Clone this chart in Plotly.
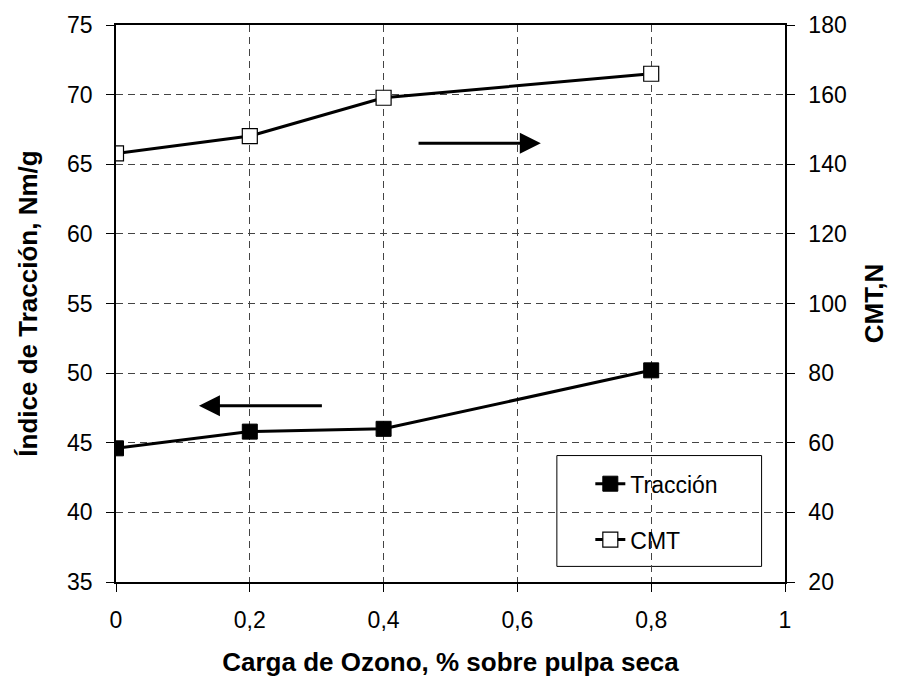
import plotly.graph_objects as go

# Ozone charge (% on dry pulp)
carga_ozono = [0, 0.2, 0.4, 0.8]
# Tensile index, Nm/g (left axis)
traccion = [44.6, 45.8, 46.0, 50.2]
# CMT, N (right axis)
cmt = [143.1, 148.1, 159.1, 166.0]

FONT = "Arial, Liberation Sans, sans-serif"

fig = go.Figure()

fig.add_trace(go.Scatter(
    x=carga_ozono, y=traccion, name="Tracción", mode="lines+markers",
    line=dict(color="black", width=3),
    marker=dict(symbol="square", size=15, color="black", line=dict(color="black", width=1)),
    legendgroup="a", yaxis="y",
))
fig.add_trace(go.Scatter(
    x=carga_ozono, y=cmt, name="CMT", mode="lines+markers",
    line=dict(color="black", width=3),
    marker=dict(symbol="square", size=15, color="white", line=dict(color="black", width=1.2)),
    legendgroup="b", yaxis="y2",
))

grid = dict(showgrid=True, gridcolor="#444", gridwidth=1, griddash="7px,5px")

fig.update_layout(
    width=899, height=678,
    margin=dict(l=116, r=114, t=25, b=96, autoexpand=False),
    paper_bgcolor="white", plot_bgcolor="white",
    separators=",.",
    font=dict(family=FONT, size=23, color="black"),
    showlegend=True,
    legend=dict(
        x=0.709, y=0.215, xanchor="left", yanchor="top",
        bgcolor="rgba(0,0,0,0)", borderwidth=0,
        font=dict(family=FONT, size=23, color="black"),
        tracegroupgap=23, traceorder="grouped",
    ),
    xaxis=dict(
        range=[0, 1], dtick=0.2, tick0=0, automargin=False,
        showline=True, linecolor="black", linewidth=1.5, mirror=True,
        ticks="outside", ticklen=8, tickcolor="black", ticklabelstandoff=9,
        tickfont=dict(size=23), zeroline=False,
        title=dict(text="<b>Carga de Ozono, % sobre pulpa seca</b>",
                   font=dict(size=26), standoff=20),
        **grid,
    ),
    yaxis=dict(
        range=[35, 75], dtick=5, automargin=False,
        showline=True, linecolor="black", linewidth=1.5,
        ticks="outside", ticklen=8, tickcolor="black", ticklabelstandoff=9,
        tickfont=dict(size=23), zeroline=False,
        title=dict(text="<b>Índice de Tracción, Nm/g</b>",
                   font=dict(size=26), standoff=22),
        **grid,
    ),
    yaxis2=dict(
        range=[20, 180], dtick=20, overlaying="y", side="right", automargin=False,
        showline=True, linecolor="black", linewidth=1.5,
        ticks="outside", ticklen=8, tickcolor="black", ticklabelstandoff=9,
        tickfont=dict(size=23), zeroline=False, showgrid=False,
        title=dict(text="<b>CMT,N</b>", font=dict(size=26), standoff=19),
    ),
)

# Legend frame
fig.add_shape(type="rect", xref="paper", yref="paper",
              x0=0.659, x1=0.965, y0=0.028, y1=0.227,
              line=dict(color="black", width=1), fillcolor="white", layer="below")

# Arrows indicating which axis each curve belongs to
fig.add_annotation(x=0.635, y=66.5, ax=0.45, ay=66.5, xref="x", yref="y",
                   axref="x", ayref="y", text="", showarrow=True,
                   arrowhead=2, arrowsize=1.4, arrowwidth=3, arrowcolor="black",
                   standoff=0, startstandoff=0)
fig.add_annotation(x=0.124, y=47.65, ax=0.31, ay=47.65, xref="x", yref="y",
                   axref="x", ayref="y", text="", showarrow=True,
                   arrowhead=2, arrowsize=1.4, arrowwidth=3, arrowcolor="black",
                   standoff=0, startstandoff=0)

fig.write_html("out.html")
